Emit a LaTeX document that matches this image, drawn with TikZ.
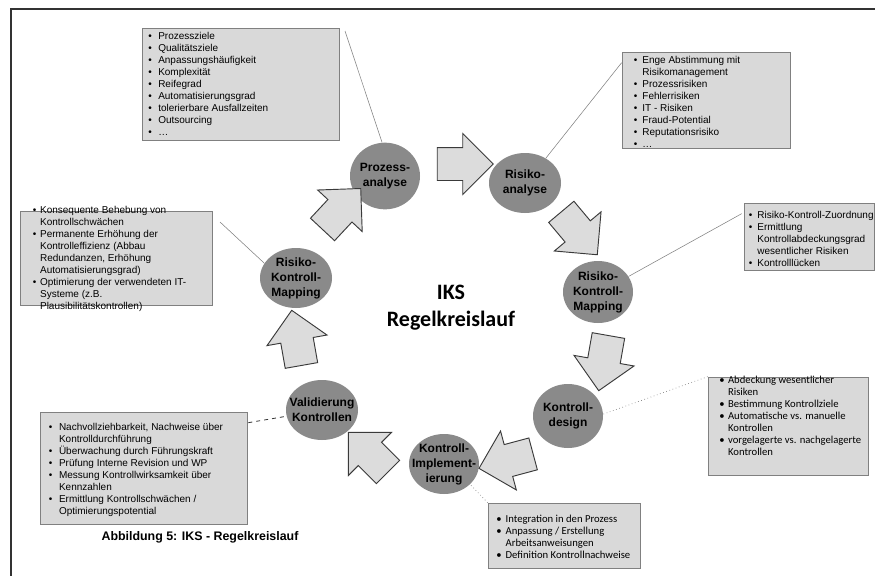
\documentclass[tikz,border=0pt]{standalone}
\usepackage{fontspec}
\setmainfont{Liberation Sans}
\newfontfamily\carl{Carlito}
\usetikzlibrary{shapes.geometric,shapes.arrows,calc,fit}
\definecolor{circfill}{HTML}{8A8A8A}
\definecolor{boxfill}{HTML}{D9D9D9}
\definecolor{arrfill}{HTML}{DCDCDC}
\definecolor{arredge}{HTML}{3A3A3A}
\definecolor{framecol}{HTML}{333333}
\newlength\bw
\setlength\bw{6.5pt}
\newcommand{\bulit}{\makebox[\bw][l]{\textbullet}}
\newcommand{\bulcont}{\hspace*{\bw}}
\begin{document}
\begin{tikzpicture}[x=0.75pt,y=-0.75pt,
  infobox/.style={draw=black!50, fill=boxfill, line width=0.5pt, inner sep=0pt},
  infotext/.style={anchor=north west, inner sep=0pt, align=left, font={\fontsize{7.5}{9}\selectfont\setlength\bw{#1}}},
  infotext/.default=6.5pt,
  infotextc/.style={anchor=north west, inner sep=0pt, align=left, font={\carl\fontsize{8}{9}\selectfont\setlength\bw{#1}}},
  infotextc/.default=7pt,
  stage/.style={ellipse, fill=circfill, draw=none, inner sep=0pt},
  clabel/.style={align=center, inner sep=0pt, font=\bfseries\fontsize{9}{11.25}\selectfont},
  blockarrow/.style={single arrow, draw=arredge, fill=arrfill, line width=0.7pt,
    inner xsep=0pt, inner ysep=12pt, minimum height=42pt, single arrow head extend=10.5pt},
  callout/.style={draw=gray, line width=0.4pt},
  calloutdot/.style={draw=gray, line width=0.5pt, dotted},
  calloutdash/.style={draw=black!80, line width=0.6pt, dashed}
]
\useasboundingbox (0,0) rectangle (875,575);
\fill[white] (0,0) rectangle (875,575);
\draw[framecol, line width=1.5pt] (11,590) -- (11,9) -- (890,9);

% boxes
\node[infobox, fit={(142,28) (339,140)}] (bTL) {};
\node[infobox, fit={(622,52) (790,148)}] (bTR) {};
\node[infobox, fit={(744,203) (874,270)}] (bR) {};
\node[infobox, fit={(708,377) (868,475)}] (bRL) {};
\node[infobox, fit={(488,503) (640,568)}] (bB) {};
\node[infobox, fit={(40,412) (247,524)}] (bBL) {};
\node[infobox, fit={(20,211) (212,305)}] (bL) {};

% box texts
\node[infotext=7.5pt] (tTL) at (148,30.5) {\strut\bulit Prozessziele\\
\bulit Qualitätsziele\\
\bulit Anpassungshäufigkeit\\
\bulit Komplexität\\
\bulit Reifegrad\\
\bulit Automatisierungsgrad\\
\bulit tolerierbare Ausfallzeiten\\
\bulit Outsourcing\\
\bulit …};

\node[infotext] (tTR) at (633.5,54.5) {\strut\bulit Enge Abstimmung mit\\
\bulcont Risikomanagement\\
\bulit Prozessrisiken\\
\bulit Fehlerrisiken\\
\bulit IT - Risiken\\
\bulit Fraud-Potential\\
\bulit Reputationsrisiko\\
\bulit …};

\node[infotext] (tR) at (748.5,209.5) {\strut\bulit Risiko-Kontroll-Zuordnung\\
\bulit Ermittlung\\
\bulcont Kontrollabdeckungsgrad\\
\bulcont wesentlicher Risiken\\
\bulit Kontrolllücken};

\node[infotextc=6.6pt] (tRL) at (719,374.5) {\strut\bulit Abdeckung wesentlicher\\
\bulcont Risiken\\
\bulit Bestimmung  Kontrollziele\\
\bulit Automatische vs. manuelle\\
\bulcont Kontrollen\\
\bulit vorgelagerte vs. nachgelagerte\\
\bulcont Kontrollen};

\node[infotextc] (tB) at (496,513.5) {\strut\bulit Integration in den Prozess\\
\bulit Anpassung / Erstellung\\
\bulcont Arbeitsanweisungen\\
\bulit Definition Kontrollnachweise};

\node[infotext=7.7pt] (tBL) at (48.5,421.5) {\strut\bulit Nachvollziehbarkeit, Nachweise über\\
\bulcont Kontrolldurchführung\\
\bulit Überwachung durch Führungskraft\\
\bulit Prüfung Interne Revision und WP\\
\bulit Messung Kontrollwirksamkeit über\\
\bulcont Kennzahlen\\
\bulit Ermittlung  Kontrollschwächen /\\
\bulcont Optimierungspotential};

\node[infotext=5.5pt] (tL) at (32.5,204.5) {\strut\bulit Konsequente Behebung von\\
\bulcont Kontrollschwächen\\
\bulit Permanente Erhöhung der\\
\bulcont Kontrolleffizienz (Abbau\\
\bulcont Redundanzen, Erhöhung\\
\bulcont Automatisierungsgrad)\\
\bulit Optimierung der verwendeten IT-\\
\bulcont Systeme (z.B.\\
\bulcont Plausibilitätskontrollen)};

% stages
\node[stage, minimum width=52.5pt, minimum height=50pt, label={[clabel]center:{Prozess-\\analyse}}] (cP) at (385,176) {};
\node[stage, minimum width=54pt, minimum height=45pt, label={[clabel]center:{Risiko-\\analyse}}] (cR) at (525,183) {};
\node[stage, minimum width=52.5pt, minimum height=46.5pt, label={[clabel]center:{Risiko-\\Kontroll-\\Mapping}}] (cMR) at (598,292) {};
\node[stage, minimum width=52.5pt, minimum height=48pt, label={[clabel]center:{Kontroll-\\design}}] (cD) at (568,416) {};
\node[stage, minimum width=52.5pt, minimum height=45pt, label={[clabel]center:{Kontroll-\\Implement-\\ierung}}] (cI) at (444,464) {};
\node[stage, minimum width=54pt, minimum height=45pt, label={[clabel]center:{Validierung\\Kontrollen}}] (cV) at (322,410) {};
\node[stage, minimum width=54pt, minimum height=45pt, label={[clabel]center:{Risiko-\\Kontroll-\\Mapping}}] (cML) at (296,278) {};

% block arrows
\node[blockarrow, rotate=0] (a1) at (457,164) {};
\node[blockarrow, rotate=-50] (a2) at (574,227) {};
\node[blockarrow, rotate=-100] (a3) at (605,355) {};
\node[blockarrow, rotate=195] (a4) at (514,459) {};
\node[blockarrow, rotate=135] (a5) at (374,458) {};
\node[blockarrow, rotate=100] (a6) at (298,346) {};
\node[blockarrow, rotate=47] (a7) at (336,215) {};

% callout connectors
\coordinate (eTL) at (345,31);
\coordinate (eL) at (220,222);
\draw[callout] (eTL) -- (cP.95);
\draw[callout] ($(bTR.north west)+(0,11)$) -- (cR.50);
\draw[callout] ($(bR.north west)+(-2,11)$) -- (cMR.27);
\draw[calloutdot] (bRL.north west) -- (cD.3);
\draw[calloutdot] (bB.north west) -- (cI.-38);
\draw[calloutdash] ($(bBL.north east)+(1,11)$) -- (cV.190);
\draw[callout] (eL) -- (cML.155);

% titles
\node[font=\carl\bfseries\fontsize{16.5}{20.25}\selectfont, align=center, inner sep=0pt] (title) at (451,308) {IKS\\Regelkreislauf};
\node[font=\bfseries\fontsize{9.3}{11}\selectfont, inner sep=0pt] (cap) at (200,537) {Abbildung 5: IKS - Regelkreislauf};
\end{tikzpicture}
\end{document}
